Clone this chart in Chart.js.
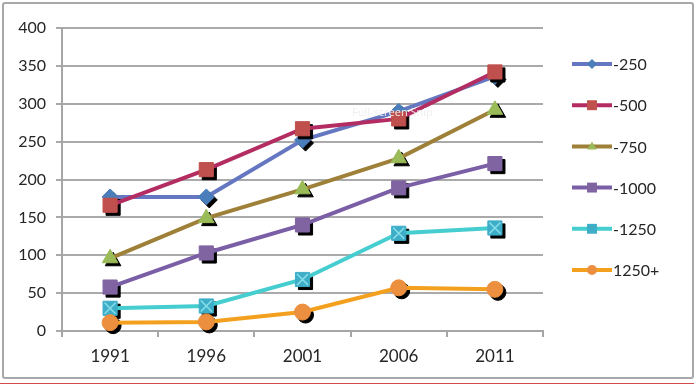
<!DOCTYPE html>
<html>
<head>
<meta charset="utf-8">
<script src="https://cdn.jsdelivr.net/npm/chart.js@4/dist/chart.umd.min.js"></script>
<style>
  html, body { margin: 0; padding: 0; background: #fff; }
  #wrap { position: relative; width: 700px; height: 387px; overflow: hidden; }
  #frame { position: absolute; left: 2px; top: 2px; width: 688px; height: 373px;
           border: 2px solid #a8a8a8; border-radius: 3px; pointer-events: none; }
  #redline { position: absolute; left: 0; top: 383px; width: 694px; height: 1px; background: #d24a4a; }
  #snip { position: absolute; left: 352px; top: 104px; font: 11px "Open Sans", sans-serif; color: #efefef; }
  canvas { position: absolute; left: 0; top: 0; }
</style>
</head>
<body>
<div id="wrap">
  <canvas id="chart" width="700" height="387"></canvas>
  <div id="frame"></div>
  <div id="redline"></div>
  <div id="snip">Full-screen Snip</div>
</div>
<script>
const years = ["1991", "1996", "2001", "2006", "2011"];
const seriesNames = ["-250", "-500", "-750", "-1000", "-1250", "1250+"];
const s250 = [177, 177, 252, 290, 336];
const s500 = [166, 213, 267, 280, 342];
const s750 = [96, 149, 187, 228, 292];
const s1000 = [58, 103, 140, 189, 221];
const s1250 = [30, 33, 68, 129, 136];
const s1250plus = [11, 12, 25, 57, 55];
const yTicksMax = 400;
const yTickStep = 50;

const lineColors = ["#6477c0", "#b32d62", "#9e8038", "#7a5ea6", "#45cdd0", "#f4a01f"];
const markerColors = ["#4a7ebb", "#c0504d", "#9bbb59", "#8064a2", "#3eaec8", "#ec8f3e"];
const markerStyles = ["rectRot", "rect", "triangle", "rect", "rect", "circle"];
const markerRadius = [8, 10, 9, 10, 10, 8];

const allValues = [s250, s500, s750, s1000, s1250, s1250plus];
const fontFamily = "Lato, 'Open Sans', sans-serif";

function drawMarker(ctx, style, x, y, r){
    ctx.beginPath();
    if(style === "circle"){
        ctx.arc(x, y, r, 0, Math.PI * 2);
    } else if(style === "rect"){
        const h = r * Math.SQRT1_2;
        ctx.rect(x - h, y - h, 2 * h, 2 * h);
    } else if(style === "rectRot"){
        ctx.moveTo(x, y - r); ctx.lineTo(x + r, y); ctx.lineTo(x, y + r); ctx.lineTo(x - r, y);
        ctx.closePath();
    } else if(style === "triangle"){
        ctx.moveTo(x, y - r); ctx.lineTo(x + r * 0.95, y + r * 0.6); ctx.lineTo(x - r * 0.95, y + r * 0.6);
        ctx.closePath();
    }
    ctx.fill();
}

// black drop shadow under each marker, plus the X on the -1250 squares
const markerShadow = {
    id: "markerShadow",
    beforeDatasetDraw(chart, args){
        const ctx = chart.ctx;
        ctx.save();
        ctx.translate(3, 3);
        args.meta.data.forEach(el => {
            const o = el.options;
            el.options = Object.assign({}, o, { backgroundColor: "#000", borderColor: "#000" });
            el.draw(ctx);
            el.options = o;
        });
        ctx.restore();
    },
    afterDatasetDraw(chart, args){
        const ds = chart.data.datasets[args.index];
        if(!ds.crossMark) return;
        const ctx = chart.ctx;
        ctx.save();
        ctx.strokeStyle = "#86dde8";
        ctx.lineWidth = 1.6;
        args.meta.data.forEach(el => {
            const h = 5.5;
            ctx.beginPath();
            ctx.moveTo(el.x - h, el.y - h); ctx.lineTo(el.x + h, el.y + h);
            ctx.moveTo(el.x + h, el.y - h); ctx.lineTo(el.x - h, el.y + h);
            ctx.stroke();
        });
        ctx.restore();
    }
};

const sideLegend = {
    id: "sideLegend",
    afterDraw(chart){
        const ctx = chart.ctx;
        ctx.save();
        chart.data.datasets.forEach((ds, i) => {
            const y = 64 + i * 41.2;
            ctx.strokeStyle = ds.borderColor;
            ctx.lineWidth = 4;
            ctx.beginPath();
            ctx.moveTo(572, y); ctx.lineTo(612, y);
            ctx.stroke();
            ctx.fillStyle = ds.pointBackgroundColor;
            drawMarker(ctx, ds.pointStyle, 592, y, ds.pointStyle === "rect" ? 7 : 5);
            ctx.fillStyle = "#262626";
            ctx.font = "16px " + fontFamily;
            ctx.textAlign = "left";
            ctx.textBaseline = "middle";
            ctx.fillText(ds.label, 613, y + 1);
        });
        ctx.restore();
    }
};

const datasets = seriesNames.map((name, i) => ({
    label: name,
    data: allValues[i],
    borderColor: lineColors[i],
    borderWidth: 4,
    pointStyle: markerStyles[i],
    pointRadius: markerRadius[i],
    pointBackgroundColor: markerColors[i],
    pointBorderColor: markerColors[i],
    pointBorderWidth: 1,
    tension: 0,
    fill: false,
    order: seriesNames.length - i,
    crossMark: name === "-1250"
}));

new Chart(document.getElementById("chart"), {
    type: "line",
    data: { labels: years, datasets: datasets },
    plugins: [markerShadow, sideLegend],
    options: {
        responsive: false,
        animation: false,
        devicePixelRatio: 1,
        layout: { padding: { top: 28, right: 157, left: 0, bottom: 0 } },
        plugins: {
            legend: { display: false },
            tooltip: { enabled: false }
        },
        scales: {
            x: {
                offset: true,
                afterFit(scale){ scale.height = 56; },
                grid: { offset: true, drawOnChartArea: false, drawTicks: true, tickLength: 6, color: "#a6a6a6", lineWidth: 2 },
                border: { color: "#a6a6a6", width: 2 },
                ticks: { color: "#262626", padding: 9, font: { family: fontFamily, size: 17 } }
            },
            y: {
                min: 0,
                max: yTicksMax,
                afterFit(scale){ scale.width = 62; },
                grid: { color: "#aaaaaa", lineWidth: 2, tickLength: 6 },
                border: { color: "#a6a6a6", width: 2 },
                ticks: { stepSize: yTickStep, color: "#262626", padding: 10, font: { family: fontFamily, size: 16 } }
            }
        }
    }
});
</script>
</body>
</html>
